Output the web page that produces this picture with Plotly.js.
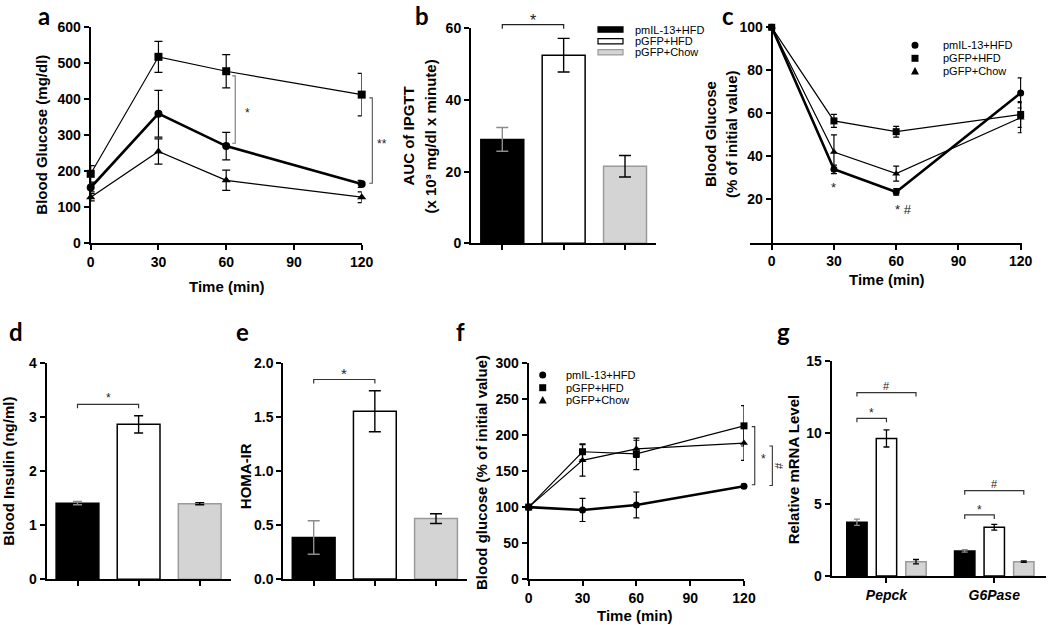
<!DOCTYPE html>
<html><head><meta charset="utf-8">
<script src="https://cdn.plot.ly/plotly-3.0.1.min.js"></script>
<style>html,body{margin:0;padding:0;background:#fff}</style>
</head><body><div id="chart" style="width:1050px;height:625px"></div>
<script>
// ---------------- DATA ----------------
const groupNames = ['pmIL-13+HFD', 'pGFP+HFD', 'pGFP+Chow'];
const timePoints = [0, 30, 60, 120];
const timeTicks = [0, 30, 60, 90, 120];

// a: IPGTT blood glucose (mg/dl)
const aIL13 = [155, 360, 270, 165];
const aIL13Err = [12, 65, 38, 10];
const aGfpHfd = [193, 518, 478, 413];
const aGfpHfdErr = [23, 43, 46, 59];
const aGfpChow = [128, 255, 175, 128];
const aGfpChowErr = [10, 35, 28, 15];

// b: AUC of IPGTT
const bAUC = [29, 52.5, 21.5];
const bAUCErr = [3.3, 4.7, 3.0];

// c: ITT blood glucose (% of initial)
const cIL13 = [100, 34, 23.5, 69.5];
const cIL13Err = [0, 2, 1.5, 7];
const cGfpHfd = [100, 56.5, 51.5, 59.5];
const cGfpHfdErr = [0, 3, 2.5, 6];
const cGfpChow = [100, 42, 32, 58];
const cGfpChowErr = [0, 8, 3.5, 7];

// d: blood insulin (ng/ml)
const dInsulin = [1.41, 2.87, 1.40];
const dInsulinErr = [0.03, 0.16, 0.02];

// e: HOMA-IR
const eHoma = [0.385, 1.555, 0.56];
const eHomaErr = [0.155, 0.19, 0.045];

// f: PTT blood glucose (% of initial)
const fIL13 = [100, 96, 103, 129];
const fIL13Err = [0, 16, 18, 3];
const fGfpHfd = [100, 177, 174, 213];
const fGfpHfdErr = [0, 11, 22, 28];
const fGfpChow = [100, 165, 181, 189];
const fGfpChowErr = [0, 22, 12, 24];

// g: relative mRNA level
const genes = ['Pepck', 'G6Pase'];
const gIL13 = [3.75, 1.75];
const gIL13Err = [0.22, 0.08];
const gGfpHfd = [9.6, 3.4];
const gGfpHfdErr = [0.6, 0.2];
const gGfpChow = [1.0, 1.0];
const gGfpChowErr = [0.15, 0.05];

// ---------------- LAYOUT GEOMETRY ----------------
const W = 1050, H = 625;
const FONT = '"Liberation Sans", Arial, sans-serif';
const LETTER_FONT = 'Lato, "Open Sans", sans-serif';
const geom = {
  a: {x: [90.7, 361.7], xr: [0, 120], y: [243.3, 27.3], yr: [0, 600]},
  b: {x: [471, 656], xr: [-0.51, 2.505], y: [243.3, 28.3], yr: [0, 60]},
  c: {x: [750, 1021.7], xr: [-10.46, 120.5], y: [242.5, 27.3], yr: [0, 100]},
  d: {x: [46.7, 230.7], xr: [-0.504, 2.507], y: [579.3, 363.3], yr: [0, 4]},
  e: {x: [283.3, 466.7], xr: [-0.497, 2.502], y: [579, 363.3], yr: [0, 2]},
  f: {x: [528.7, 744], xr: [0, 120], y: [579, 363.3], yr: [0, 300]},
  g: {x: [831.7, 1046], xr: [-0.508, 1.48], y: [576, 361], yr: [0, 15]}
};
const axId = {a: '', b: '2', c: '3', d: '4', e: '5', f: '6', g: '7'};

function dpx(p, v) { const g = geom[p]; return g.x[0] + (v - g.xr[0]) / (g.xr[1] - g.xr[0]) * (g.x[1] - g.x[0]); }
function dpy(p, v) { const g = geom[p]; return g.y[0] - (v - g.yr[0]) / (g.yr[1] - g.yr[0]) * (g.y[0] - g.y[1]); }
const fx = px => px / W;
const fy = py => 1 - py / H;

const tickFont = {family: FONT, size: 14, color: '#000', weight: 'bold'};
function mkX(p, extra) {
  const g = geom[p];
  return Object.assign({domain: [g.x[0] / W, g.x[1] / W], range: g.xr, anchor: 'y' + axId[p],
    showline: true, linecolor: '#000', linewidth: 2, ticks: 'outside', ticklen: 5, tickwidth: 2,
    tickcolor: '#000', showgrid: false, zeroline: false, tickfont: tickFont, fixedrange: true}, extra || {});
}
function mkY(p, extra) {
  const g = geom[p];
  return Object.assign({domain: [1 - g.y[0] / H, 1 - g.y[1] / H], range: g.yr, anchor: 'x' + axId[p],
    showline: true, linecolor: '#000', linewidth: 2, ticks: 'outside', ticklen: 5, tickwidth: 2,
    tickcolor: '#000', showgrid: false, zeroline: false, tickfont: tickFont, fixedrange: true}, extra || {});
}

// ---------------- TRACES ----------------
const traces = [];
function lineTrace(p, y, err, symbol, lw, size, capw) {
  return {type: 'scatter', mode: 'lines+markers', x: timePoints, y: y,
    xaxis: 'x' + axId[p], yaxis: 'y' + axId[p],
    line: {color: '#000', width: lw}, marker: {symbol: symbol, size: size, color: '#000'},
    error_y: {type: 'data', array: err, visible: true, color: '#000', thickness: 1.2, width: capw},
    cliponaxis: false, showlegend: false, hoverinfo: 'skip'};
}
// a
traces.push(lineTrace('a', aGfpChow, aGfpChowErr, 'triangle-up', 1.2, 8, 4));
traces.push(lineTrace('a', aGfpHfd, aGfpHfdErr, 'square', 1.2, 8, 4));
traces.push(lineTrace('a', aIL13, aIL13Err, 'circle', 2.6, 8, 4));
// c
traces.push(lineTrace('c', cGfpChow, cGfpChowErr, 'triangle-up', 1.2, 7, 3));
traces.push(lineTrace('c', cGfpHfd, cGfpHfdErr, 'square', 1.2, 7, 3));
traces.push(lineTrace('c', cIL13, cIL13Err, 'circle', 2.6, 7, 3));
// f
traces.push(lineTrace('f', fGfpChow, fGfpChowErr, 'triangle-up', 1.2, 7, 3));
traces.push(lineTrace('f', fGfpHfd, fGfpHfdErr, 'square', 1.2, 7, 3));
traces.push(lineTrace('f', fIL13, fIL13Err, 'circle', 2.6, 7, 3));

const fills = ['#000000', '#ffffff', '#d4d4d4'];
const outlines = ['#000000', '#000000', '#9a9a9a'];
const errColors = ['#8c8c8c', '#000000', '#000000'];
function barSet(p, vals, errs, capw) {
  groupNames.forEach((n, i) => {
    traces.push({type: 'bar', name: n, x: [i], y: [vals[i]], width: 0.7, offset: -0.35,
      xaxis: 'x' + axId[p], yaxis: 'y' + axId[p],
      marker: {color: fills[i], line: {color: outlines[i], width: 1.5}},
      error_y: {type: 'data', array: [errs[i]], visible: true, color: errColors[i], thickness: 1.4, width: capw},
      showlegend: false, hoverinfo: 'skip'});
  });
}
barSet('b', bAUC, bAUCErr, 6);
barSet('d', dInsulin, dInsulinErr, 4.5);
barSet('e', eHoma, eHomaErr, 6);

const gVals = [gIL13, gGfpHfd, gGfpChow];
const gErrs = [gIL13Err, gGfpHfdErr, gGfpChowErr];
groupNames.forEach((n, i) => {
  traces.push({type: 'bar', name: n, x: genes, y: gVals[i], xaxis: 'x7', yaxis: 'y7',
    marker: {color: fills[i], line: {color: outlines[i], width: 1.5}},
    error_y: {type: 'data', array: gErrs[i], visible: true, color: errColors[i], thickness: 1.3, width: 3},
    showlegend: false, hoverinfo: 'skip'});
});

// ---------------- ANNOTATIONS & SHAPES ----------------
const shapes = [];
const ann = [];
function text(px, py, t, size, opts) {
  ann.push(Object.assign({xref: 'paper', yref: 'paper', x: fx(px), y: fy(py), text: t, showarrow: false,
    xanchor: 'center', yanchor: 'middle', font: {family: FONT, size: size, color: '#000', weight: 'bold'}}, opts || {}));
}
function ytitle(px, py, t, size) { text(px, py, t, size || 15, {textangle: -90}); }
function letter(px, py, t) { text(px, py, t, 24, {font: {family: LETTER_FONT, size: 24, color: '#000', weight: 'bold'}}); }
function pathShape(pts, color, w) {
  const d = pts.map((pt, k) => (k ? 'L' : 'M') + fx(pt[0]).toFixed(5) + ',' + fy(pt[1]).toFixed(5)).join(' ');
  shapes.push({type: 'path', xref: 'paper', yref: 'paper', path: d, line: {color: color, width: w}});
}
function hBracket(p, x0, x1, y, drop, color) {
  const X0 = dpx(p, x0), X1 = dpx(p, x1), Y = dpy(p, y);
  pathShape([[X0, Y + drop], [X0, Y], [X1, Y], [X1, Y + drop]], color || '#333', 1.2);
}
function vBracket(p, x, y0, y1, tick, color) {
  const X = dpx(p, x), Y0 = dpy(p, y0), Y1 = dpy(p, y1);
  pathShape([[X - tick, Y0], [X, Y0], [X, Y1], [X - tick, Y1]], color || '#555', 1.1);
}
function sig(p, x, y, t, size, opts) {
  text(dpx(p, x), dpy(p, y), t, size || 12, Object.assign({font: {family: FONT, size: size || 12, color: '#222'}}, opts || {}));
}

// panel letters
letter(44, 16, 'a'); letter(421.5, 16, 'b'); letter(728, 16, 'c');
letter(16, 331, 'd'); letter(242, 331, 'e'); letter(461, 331, 'f'); letter(783.5, 331, 'g');

// axis titles
ytitle(41.7, 135, 'Blood Glucose (mg/dl)');
text(226.7, 286.7, 'Time (min)', 15);
ytitle(408, 136.5, 'AUC of IPGTT');
ytitle(430, 136.5, '(x 10\u00B3 mg/dl x minute)');
ytitle(710, 134, 'Blood Glucose');
ytitle(731, 134, '(% of initial value)');
text(886.7, 279, 'Time (min)', 15);
ytitle(9, 471.7, 'Blood Insulin (ng/ml)');
ytitle(245.5, 476.7, 'HOMA-IR');
ytitle(481, 473, 'Blood glucose (% of initial value)');
text(635, 615, 'Time (min)', 15);
ytitle(793.3, 469, 'Relative mRNA Level');

// significance marks
vBracket('a', 64, 465, 278, 3, '#777');
sig('a', 69.5, 362, '*', 12);
vBracket('a', 124.7, 404, 167, 3, '#555');
sig('a', 128.8, 276, '**', 12);

hBracket('b', 0, 1, 61, 4, '#222');
sig('b', 0.5, 62.2, '*', 16);

sig('c', 30, 25.5, '*', 13);
sig('c', 63.5, 15.5, '* #', 13);

hBracket('d', 0, 1, 3.24, 4, '#333');
sig('d', 0.5, 3.36, '*', 12);

hBracket('e', 0, 1, 1.85, 4, '#333');
sig('e', 0.5, 1.91, '*', 15);

vBracket('f', 126, 212, 131, 3, '#333');
sig('f', 130.8, 167, '*', 12);
vBracket('f', 135.8, 185, 130, 3, '#333');
sig('f', 139.8, 158, '#', 11, {textangle: -90});

hBracket('g', -0.274, 0, 11.0, 4, '#333');
sig('g', -0.137, 11.35, '*', 12);
hBracket('g', -0.274, 0.274, 12.8, 4, '#333');
sig('g', 0, 13.25, '#', 11);
hBracket('g', 0.726, 1, 4.26, 4, '#333');
sig('g', 0.863, 4.6, '*', 12);
hBracket('g', 0.726, 1.274, 5.95, 4, '#333');
sig('g', 1, 6.4, '#', 11);

// legends (drawn as shapes + text)
const legFont = {family: FONT, size: 11, color: '#000'};
const bRows = [29.5, 41.3, 52.3];
groupNames.forEach((n, i) => {
  shapes.push({type: 'rect', xref: 'paper', yref: 'paper', x0: fx(598), x1: fx(623),
    y0: fy(bRows[i] - 2.6), y1: fy(bRows[i] + 2.6), fillcolor: fills[i],
    line: {color: outlines[i], width: 1.2}});
  text(633, bRows[i], n, 11, {xanchor: 'left', font: legFont});
});
function markerLegend(mx, tx, rows, size) {
  const r = size / 2;
  groupNames.forEach((n, i) => {
    const cy = rows[i];
    if (i === 0) {
      shapes.push({type: 'circle', xref: 'paper', yref: 'paper', x0: fx(mx - r), x1: fx(mx + r),
        y0: fy(cy + r), y1: fy(cy - r), fillcolor: '#000', line: {color: '#000', width: 0}});
    } else if (i === 1) {
      shapes.push({type: 'rect', xref: 'paper', yref: 'paper', x0: fx(mx - r), x1: fx(mx + r),
        y0: fy(cy + r), y1: fy(cy - r), fillcolor: '#000', line: {color: '#000', width: 0}});
    } else {
      const d = 'M' + fx(mx - r - 0.5) + ',' + fy(cy + r) + ' L' + fx(mx + r + 0.5) + ',' + fy(cy + r) +
        ' L' + fx(mx) + ',' + fy(cy - r - 0.5) + ' Z';
      shapes.push({type: 'path', xref: 'paper', yref: 'paper', path: d, fillcolor: '#000', line: {color: '#000', width: 0}});
    }
    text(tx, cy, n, 11, {xanchor: 'left', font: legFont});
  });
}
markerLegend(915, 940.7, [45.3, 58.3, 71], 7);
markerLegend(542.7, 564, [375, 387.7, 400], 7);

// ---------------- LAYOUT ----------------
const tickOpts = (vals) => ({tickmode: 'array', tickvals: vals});
const layout = {
  width: W, height: H, margin: {l: 0, r: 0, t: 0, b: 0},
  paper_bgcolor: '#fff', plot_bgcolor: 'rgba(0,0,0,0)',
  showlegend: false, barmode: 'group', bargap: 0.178, bargroupgap: 0.31,
  font: {family: FONT, color: '#000'},
  xaxis: mkX('a', tickOpts(timeTicks)),
  yaxis: mkY('a', {dtick: 100, tick0: 0}),
  xaxis2: mkX('b', Object.assign(tickOpts([0, 1, 2]), {showticklabels: false})),
  yaxis2: mkY('b', {dtick: 20, tick0: 0}),
  xaxis3: mkX('c', tickOpts(timeTicks)),
  yaxis3: mkY('c', Object.assign(tickOpts([20, 40, 60, 80, 100]),
    {anchor: 'free', position: 771.7 / W})),
  xaxis4: mkX('d', Object.assign(tickOpts([0, 1, 2]), {showticklabels: false})),
  yaxis4: mkY('d', {dtick: 1, tick0: 0}),
  xaxis5: mkX('e', Object.assign(tickOpts([0, 1, 2]), {showticklabels: false})),
  yaxis5: mkY('e', {dtick: 0.5, tick0: 0, tickformat: '.1f'}),
  xaxis6: mkX('f', tickOpts(timeTicks)),
  yaxis6: mkY('f', {dtick: 50, tick0: 0}),
  xaxis7: mkX('g', {type: 'category', tickfont: {family: FONT, size: 14, color: '#000', weight: 'bold', style: 'italic'}}),
  yaxis7: mkY('g', {dtick: 5, tick0: 0}),
  shapes: shapes,
  annotations: ann
};
Plotly.newPlot('chart', traces, layout, {staticPlot: true, displayModeBar: false});
</script>
</body></html>
